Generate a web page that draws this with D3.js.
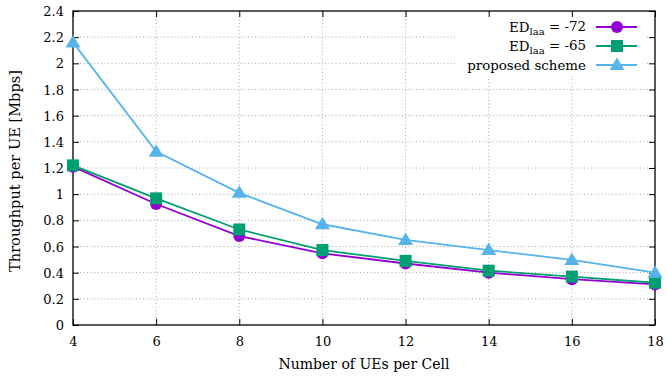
<!DOCTYPE html>
<html><head><meta charset="utf-8">
<script src="https://cdn.jsdelivr.net/npm/d3@7"></script>
<style>body{margin:0;background:#fff}svg{display:block}text{font-family:"DejaVu Serif",serif;fill:#000}</style>
</head><body>
<svg id="c" width="667" height="379"></svg>
<script>
const xValues = [4, 6, 8, 10, 12, 14, 16, 18];
const ed72 = [1.21, 0.925, 0.68, 0.548, 0.47, 0.40, 0.35, 0.31];
const ed65 = [1.22, 0.968, 0.73, 0.573, 0.49, 0.415, 0.37, 0.323];
const proposed = [2.16, 1.325, 1.01, 0.77, 0.65, 0.573, 0.497, 0.40];
const xTicks = [4, 6, 8, 10, 12, 14, 16, 18];
const yTicks = [0, 0.2, 0.4, 0.6, 0.8, 1, 1.2, 1.4, 1.6, 1.8, 2, 2.2, 2.4];
const seriesNames = ["ED_laa = -72", "ED_laa = -65", "proposed scheme"];
const seriesColors = ["#9400d3", "#009e73", "#56b4e9"];
const seriesShapes = ["circle", "square", "triangle"];

const svg = d3.select("#c");
const L = 73, R = 655, T = 11, B = 325;
const x = d3.scaleLinear().domain([4, 18]).range([L, R]);
const y = d3.scaleLinear().domain([0, 2.4]).range([B, T]);

// grid
const grid = svg.append("g").attr("stroke", "#a8a8a8").attr("stroke-width", 1).attr("stroke-dasharray", "1,2.5");
xTicks.slice(1, -1).forEach(v => grid.append("line").attr("x1", x(v)).attr("x2", x(v)).attr("y1", B).attr("y2", T));
yTicks.slice(1, -1).forEach(v => grid.append("line").attr("x1", L).attr("x2", R).attr("y1", y(v)).attr("y2", y(v)));

// legend background blanking grid
svg.append("rect").attr("x", 455).attr("y", T + 2).attr("width", 190).attr("height", 63).attr("fill", "#fff");

// axes (inner ticks, mirrored)
const axB = svg.append("g").attr("transform", `translate(0,${B})`).call(d3.axisBottom(x).tickValues(xTicks).tickSize(-6).tickPadding(12).tickFormat(d3.format("d")));
const axT = svg.append("g").attr("transform", `translate(0,${T})`).call(d3.axisTop(x).tickValues(xTicks).tickSize(-6).tickFormat(""));
const axL = svg.append("g").attr("transform", `translate(${L},0)`).call(d3.axisLeft(y).tickValues(yTicks).tickSize(-6).tickPadding(9).tickFormat(d => d3.format("~g")(d)));
const axR = svg.append("g").attr("transform", `translate(${R},0)`).call(d3.axisRight(y).tickValues(yTicks).tickSize(-6).tickFormat(""));
[axB, axT, axL, axR].forEach(a => {
  a.select(".domain").remove();
  a.selectAll(".tick line").attr("stroke", "#000").attr("stroke-width", 1);
  a.selectAll("text").attr("font-family", "DejaVu Serif").attr("font-size", 13).attr("fill", "#000");
});
axL.selectAll("text").attr("dy", "0.35em");
svg.append("rect").attr("x", L).attr("y", T).attr("width", R - L).attr("height", B - T).attr("fill", "none").attr("stroke", "#000").attr("stroke-width", 1.3);

// labels
svg.append("text").attr("x", (L + R) / 2).attr("y", 369).attr("text-anchor", "middle").attr("font-size", 14).text("Number of UEs per Cell");
svg.append("text").attr("transform", `translate(20,${(T + B) / 2 + 3}) rotate(-90)`).attr("text-anchor", "middle").attr("font-size", 14.6).text("Throughput per UE [Mbps]");

function marker(g, shape, cx, cy, color) {
  if (shape === "circle") g.append("circle").attr("cx", cx).attr("cy", cy).attr("r", 6).attr("fill", color);
  else if (shape === "square") g.append("rect").attr("x", cx - 6).attr("y", cy - 6).attr("width", 12).attr("height", 12).attr("fill", color);
  else g.append("path").attr("d", `M${cx},${cy - 7.5}L${cx + 7.5},${cy + 5}L${cx - 7.5},${cy + 5}Z`).attr("fill", color);
}

const data = [ed72, ed65, proposed];
const line = d3.line().x((d, i) => x(xValues[i])).y(d => y(d));
data.forEach((vals, s) => {
  const g = svg.append("g");
  g.append("path").attr("d", line(vals)).attr("fill", "none").attr("stroke", seriesColors[s]).attr("stroke-width", 1.8);
  vals.forEach((v, i) => marker(g, seriesShapes[s], x(xValues[i]), y(v), seriesColors[s]));
});

// legend
const legY = [27, 46, 65];
seriesNames.forEach((name, s) => {
  const t = svg.append("text").attr("x", 586).attr("y", legY[s]).attr("dy", "0.35em").attr("text-anchor", "end").attr("font-size", 13.4);
  if (name.startsWith("ED_laa")) {
    t.append("tspan").text("ED");
    t.append("tspan").attr("font-size", 10).attr("dy", "0.3em").text("laa");
    t.append("tspan").attr("dy", "-0.3em").text(name.replace("ED_laa", ""));
  } else t.text(name);
  const g = svg.append("g");
  g.append("line").attr("x1", 596).attr("x2", 637).attr("y1", legY[s]).attr("y2", legY[s]).attr("stroke", seriesColors[s]).attr("stroke-width", 1.8);
  marker(g, seriesShapes[s], 617, legY[s], seriesColors[s]);
});
</script>
</body></html>
